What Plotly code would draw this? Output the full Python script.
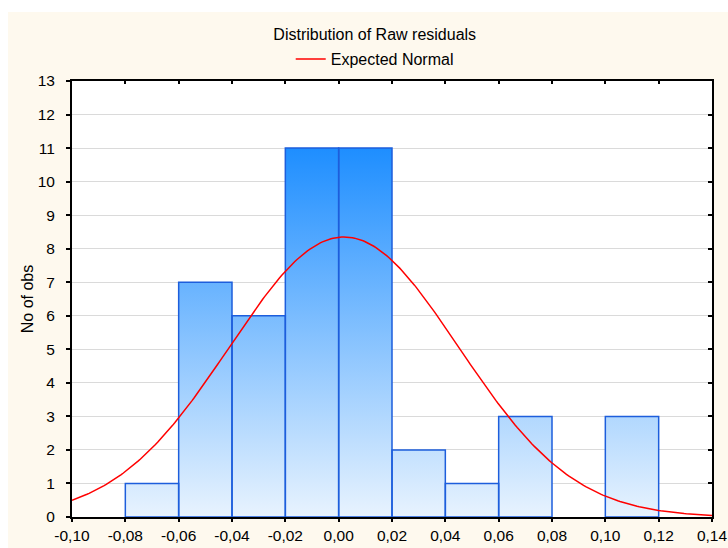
import numpy as np
import plotly.graph_objects as go

# Histogram of raw residuals (bin edges and observed counts)
bin_edges = [-0.10, -0.08, -0.06, -0.04, -0.02, 0.00, 0.02, 0.04, 0.06, 0.08, 0.10, 0.12, 0.14]
counts = [0, 1, 7, 6, 11, 11, 2, 1, 3, 0, 3, 0]

# Fitted normal parameters for the expected curve
normal_mean = 0.002
normal_sd = 0.043

# Axis ticks
x_tick_vals = [-0.10, -0.08, -0.06, -0.04, -0.02, 0.00, 0.02, 0.04, 0.06, 0.08, 0.10, 0.12, 0.14]
x_tick_text = ["-0,10", "-0,08", "-0,06", "-0,04", "-0,02", "0,00", "0,02", "0,04",
               "0,06", "0,08", "0,10", "0,12", "0,14"]
y_tick_vals = list(range(0, 14))

FONT = "Arial, Liberation Sans, sans-serif"
CREAM = "#FEF9EE"
BAR_EDGE = "#1D5EDC"

# Bars as closed polygons so the fill can use an axis-anchored vertical gradient
bx, by = [], []
for left, right, c in zip(bin_edges[:-1], bin_edges[1:], counts):
    if c <= 0:
        continue
    bx += [left, left, right, right, left, None]
    by += [0, c, c, 0, 0, None]

n_obs = sum(counts)
bin_width = bin_edges[1] - bin_edges[0]
curve_x = np.linspace(bin_edges[0], bin_edges[-1], 300)
curve_y = (n_obs * bin_width / (normal_sd * np.sqrt(2 * np.pi))
           * np.exp(-0.5 * ((curve_x - normal_mean) / normal_sd) ** 2))

fig = go.Figure()
fig.add_trace(go.Scatter(
    x=bx, y=by, mode="lines", fill="toself",
    line=dict(color=BAR_EDGE, width=1.5),
    fillgradient=dict(type="vertical", start=0, stop=11,
                      colorscale=[[0, "#E8F3FE"], [1, "#1E8EFF"]]),
    showlegend=False, hoverinfo="skip",
))
fig.add_trace(go.Scatter(
    x=curve_x, y=curve_y, mode="lines",
    line=dict(color="#FF0000", width=1.5),
    name="Expected Normal",
))
# invisible anchor for the mirrored top/right axes
fig.add_trace(go.Scatter(
    x=[bin_edges[0]], y=[0], xaxis="x2", yaxis="y2", mode="markers",
    marker=dict(opacity=0), showlegend=False, hoverinfo="skip",
))

x_range = [bin_edges[0], bin_edges[-1]]
y_range = [0, 13]

fig.update_layout(
    width=728, height=548,
    margin=dict(l=72, r=16, t=81, b=31, autoexpand=False),
    paper_bgcolor=CREAM,
    plot_bgcolor="white",
    font=dict(family=FONT, size=15, color="black"),
    title=dict(text="Distribution of Raw residuals", x=0.473, xref="paper", xanchor="center",
               y=1 - 34 / 548, yref="container", yanchor="middle",
               font=dict(family=FONT, size=16, color="black")),
    legend=dict(orientation="h", x=0.473, xanchor="center", y=1.05, yanchor="middle",
                bgcolor="rgba(0,0,0,0)", font=dict(family=FONT, size=16)),
    showlegend=True,
    xaxis=dict(range=x_range, tickvals=x_tick_vals, ticktext=x_tick_text,
               showgrid=False, zeroline=False, showline=True, linecolor="black", linewidth=2,
               ticks="outside", ticklen=3, tickcolor="black", tickwidth=1.5,
               ticklabelstandoff=0, tickfont=dict(family=FONT, size=15.5)),
    yaxis=dict(range=y_range, tickvals=y_tick_vals,
               showgrid=True, gridcolor="#DADADA", gridwidth=1.2,
               zeroline=False, showline=True, linecolor="black", linewidth=2,
               ticks="outside", ticklen=4, tickcolor="black", tickwidth=1.5,
               ticklabelstandoff=8, tickfont=dict(family=FONT, size=15.5),
               title=dict(text="No of obs", standoff=0, font=dict(family=FONT, size=16))),
    xaxis2=dict(range=x_range, overlaying="x", side="top", tickvals=x_tick_vals,
                showticklabels=False, showgrid=False, zeroline=False,
                showline=True, linecolor="black", linewidth=2,
                ticks="inside", ticklen=3, tickcolor="black", tickwidth=1.5),
    yaxis2=dict(range=y_range, overlaying="y", side="right", tickvals=y_tick_vals,
                showticklabels=False, showgrid=False, zeroline=False,
                showline=True, linecolor="black", linewidth=2,
                ticks="inside", ticklen=4, tickcolor="black", tickwidth=1.5),
    shapes=[
        # white border strips along the top and left edges of the page
        dict(type="rect", xref="paper", yref="paper", x0=-72 / 640, x1=656 / 640,
             y0=(517 - 12) / 436, y1=517 / 436, fillcolor="white", line=dict(width=0), layer="below"),
        dict(type="rect", xref="paper", yref="paper", x0=-72 / 640, x1=-64 / 640,
             y0=-31 / 436, y1=517 / 436, fillcolor="white", line=dict(width=0), layer="below"),
    ],
)

fig.write_html("out.html")
